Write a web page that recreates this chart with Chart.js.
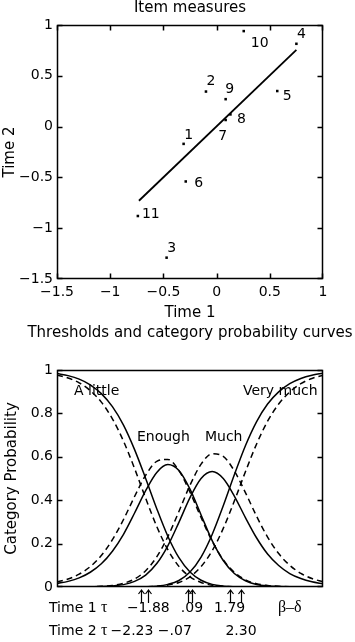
<!DOCTYPE html>
<html><head><meta charset="utf-8">
<script src="https://cdn.jsdelivr.net/npm/chart.js@4/dist/chart.umd.min.js"></script>
<style>
html,body{margin:0;padding:0;background:#fff;width:355px;height:642px;overflow:hidden}
canvas{position:absolute;left:0}
#c1{top:0}
#c2{top:322px}
</style></head><body>
<canvas id="c1" width="355" height="322"></canvas>
<canvas id="c2" width="355" height="320"></canvas>
<script>
// ---------- Top chart data: item measures ----------
const itemLabels = ['1','2','3','4','5','6','7','8','9','10','11'];
const itemTime1  = [-0.31,-0.10,-0.47,0.75,0.57,-0.29,0.085,0.13,0.085,0.255,-0.74];
const itemTime2  = [-0.17,0.345,-1.29,0.815,0.35,-0.54,0.065,0.12,0.27,0.94,-0.88];
const fitLineX   = [-0.73, 0.75];
const fitLineY   = [-0.73, 0.755];
const topXTicks  = [-1.5,-1,-0.5,0,0.5,1];
const topYTicks  = [-1.5,-1,-0.5,0,0.5,1];

// ---------- Bottom chart data: category probability curves ----------
const theta = [-6,-5.5,-5,-4.5,-4,-3.5,-3,-2.5,-2,-1.5,-1,-0.5,0,0.5,1,1.5,2,2.5,3,3.5,4,4.5,5,5.5,6];
const t1ALittle = [.984,.974,.958,.932,.891,.831,.746,.633,.500,.361,.234,.135,.069,.031,.012,.004,.001,0,0,0,0,0,0,0,0];
const t1Enough  = [.016,.026,.042,.068,.107,.165,.243,.341,.444,.528,.564,.537,.451,.332,.214,.122,.062,.029,.012,.005,.002,.001,0,0,0];
const t1Much    = [0,0,0,.001,.002,.005,.011,.026,.055,.108,.190,.298,.412,.500,.532,.500,.419,.320,.227,.152,.099,.062,.039,.024,.015];
const t1VeryMuch= [0,0,0,0,0,0,0,0,.001,.004,.012,.030,.069,.138,.242,.374,.517,.651,.761,.843,.899,.937,.961,.976,.985];
const t2ALittle = [.977,.963,.941,.905,.852,.775,.672,.546,.409,.279,.172,.095,.047,.021,.008,.003,.001,0,0,0,0,0,0,0,0];
const t2Enough  = [.023,.037,.059,.094,.145,.218,.311,.417,.515,.579,.588,.536,.437,.320,.211,.125,.068,.033,.015,.007,.003,.001,0,0,0];
const t2Much    = [0,0,0,.001,.003,.007,.017,.037,.075,.139,.232,.348,.469,.566,.614,.602,.535,.435,.327,.230,.154,.100,.063,.039,.024];
const t2VeryMuch= [0,0,0,0,0,0,0,0,.001,.003,.009,.021,.047,.094,.167,.270,.396,.531,.658,.764,.843,.899,.937,.961,.976];
const categoryNames = ['A little','Enough','Much','Very much'];
const thresholds1 = [-1.88, 0.09, 1.79];
const thresholds2 = [-2.23, -0.07, 2.30];
const thresholdText1 = ['\u22121.88', '.09', '1.79'];
const thresholdText2 = ['\u22122.23', '\u2212.07', '2.30'];
const bottomYTicks = [0,0.2,0.4,0.6,0.8,1];

// ---------- styling / placement (not data) ----------
const FONT = "'DejaVu Sans', sans-serif";
const SERIF = "'Liberation Serif', 'DejaVu Serif', serif";
const pointLabelOffset = {'1':[5,-9],'2':[5,-10],'3':[5,-9],'4':[5,-9],'5':[10,5],'6':[13,2],'7':[-3,16],'8':[11,5],'9':[4,-10],'10':[16,12],'11':[13,-2]};
const categoryLabelPlace = [
  {x:-5.23, y:0.90, align:'left'},
  {x:-1.2,  y:0.69, align:'center'},
  {x:1.52,  y:0.69, align:'center'},
  {x:5.76,  y:0.90, align:'right'}
];
const frameTicks = {c1: {x: true, y: true}, c2: {x: false, y: true}};
const fmt = v => String(v).replace('-', '\u2212');

Chart.defaults.font.family = FONT;
Chart.defaults.color = '#000';

const framePlugin = {
  id: 'boxFrame',
  afterDraw(chart) {
    const opts = frameTicks[chart.canvas.id] || {};
    const ctx = chart.ctx, a = chart.chartArea;
    const L = Math.round(a.left) + 0.5, R = Math.round(a.right) - 0.5;
    const T = Math.round(a.top) + 0.5, B = Math.round(a.bottom) - 0.5;
    ctx.save();
    ctx.setLineDash([]);
    ctx.globalAlpha = 1;
    ctx.strokeStyle = '#000000';
    ctx.lineWidth = 1.5;
    ctx.lineCap = 'square';
    ctx.beginPath();
    ctx.moveTo(L, T); ctx.lineTo(R, T); ctx.lineTo(R, B); ctx.lineTo(L, B); ctx.closePath();
    ctx.stroke();
    const len = 5;
    ctx.lineCap = 'butt';
    ctx.lineWidth = 1.5;
    ctx.beginPath();
    if (opts.x) {
      const sx = chart.scales.x;
      sx.ticks.forEach(t => {
        const px = Math.min(R, Math.round(sx.getPixelForValue(t.value)) + 0.5);
        ctx.moveTo(px, B); ctx.lineTo(px, B - len);
        ctx.moveTo(px, T); ctx.lineTo(px, T + len);
      });
    }
    if (opts.y) {
      const sy = chart.scales.y;
      sy.ticks.forEach(t => {
        const py = Math.min(B, Math.round(sy.getPixelForValue(t.value)) + 0.5);
        ctx.moveTo(L, py); ctx.lineTo(L + len, py);
        ctx.moveTo(R, py); ctx.lineTo(R - len, py);
      });
    }
    ctx.stroke();
    ctx.restore();
  }
};

const headingText = {c1: {text: 'Item measures', baseline: 12}, c2: {text: 'Thresholds and category probability curves', baseline: 14.7}};
const headingPlugin = {
  id: 'heading',
  afterDraw(chart) {
    const h = headingText[chart.canvas.id];
    const ctx = chart.ctx, a = chart.chartArea;
    ctx.save();
    ctx.font = '15px ' + FONT;
    ctx.fillStyle = '#000';
    ctx.textAlign = 'center';
    ctx.textBaseline = 'alphabetic';
    ctx.fillText(h.text, (a.left + a.right) / 2, h.baseline);
    ctx.restore();
  }
};

const pointLabelPlugin = {
  id: 'pointLabels',
  afterDraw(chart) {
    const ctx = chart.ctx;
    const meta = chart.getDatasetMeta(0);
    ctx.save();
    ctx.font = '14px ' + FONT;
    ctx.fillStyle = '#000';
    ctx.textAlign = 'center';
    ctx.textBaseline = 'middle';
    meta.data.forEach((el, i) => {
      const off = pointLabelOffset[itemLabels[i]] || [8, 0];
      ctx.fillText(itemLabels[i], el.x + off[0], el.y + off[1]);
    });
    ctx.restore();
  }
};

// ---------- Top chart ----------
new Chart(document.getElementById('c1'), {
  type: 'scatter',
  data: {
    datasets: [
      {
        data: itemTime1.map((x, i) => ({x, y: itemTime2[i]})),
        pointStyle: 'rect', pointRadius: 1.8, backgroundColor: '#000', borderWidth: 0, showLine: false
      },
      {
        type: 'line',
        data: fitLineX.map((x, i) => ({x, y: fitLineY[i]})),
        borderColor: '#000', borderWidth: 1.8, pointRadius: 0, fill: false
      }
    ]
  },
  options: {
    responsive: false, animation: false, events: [],
    layout: {padding: {top: 25, right: 32, left: 0, bottom: 0}},
    plugins: {legend: {display: false}, tooltip: {enabled: false}},
    scales: {
      x: {
        type: 'linear', min: -1.5, max: 1,
        afterBuildTicks: s => { s.ticks = topXTicks.map(v => ({value: v})); },
        afterFit: s => { s.height = 43; },
        grid: {display: false, drawTicks: false}, border: {display: false},
        ticks: {font: {size: 14}, padding: 5, autoSkip: false, maxRotation: 0, callback: v => fmt(v)},
        title: {display: true, text: 'Time 1', font: {size: 15}, padding: 0}
      },
      y: {
        type: 'linear', min: -1.5, max: 1,
        afterBuildTicks: s => { s.ticks = topYTicks.map(v => ({value: v})); },
        afterFit: s => { s.width = 57; },
        grid: {display: false, drawTicks: false}, border: {display: false},
        ticks: {font: {size: 14}, padding: 4, autoSkip: false, callback: v => fmt(v)},
        title: {display: true, text: 'Time 2', font: {size: 15}, padding: {top: 1, bottom: 0}}
      }
    }
  },
  plugins: [framePlugin, headingPlugin, pointLabelPlugin]
});

// ---------- Bottom chart ----------
const thresholdPlugin = {
  id: 'thresholds',
  afterDraw(chart) {
    const ctx = chart.ctx, a = chart.chartArea;
    const sx = chart.scales.x, sy = chart.scales.y;
    ctx.save();
    ctx.fillStyle = '#000';
    ctx.strokeStyle = '#000';
    // category labels
    ctx.font = '14px ' + FONT;
    ctx.textBaseline = 'middle';
    categoryNames.forEach((name, i) => {
      const p = categoryLabelPlace[i];
      ctx.textAlign = p.align;
      ctx.fillText(name, sx.getPixelForValue(p.x), sy.getPixelForValue(p.y));
    });
    // arrows under the thresholds
    ctx.lineWidth = 1.2;
    const top = a.bottom + 3, bot = a.bottom + 16;
    thresholds1.concat(thresholds2).forEach(t => {
      const px = Math.round(sx.getPixelForValue(t)) + 0.5;
      ctx.beginPath();
      ctx.moveTo(px, bot); ctx.lineTo(px, top);
      ctx.moveTo(px - 3, top + 4); ctx.lineTo(px, top); ctx.lineTo(px + 3, top + 4);
      ctx.stroke();
    });
    // text rows
    const row1 = 290.3, row2 = 312.8, x0 = 49;
    ctx.textBaseline = 'alphabetic';
    ctx.textAlign = 'left';
    ctx.font = '14px ' + FONT;
    ctx.fillText('Time 1', x0, row1);
    ctx.fillText('Time 2', x0, row2);
    const w1 = ctx.measureText('Time 1 ').width;
    ctx.font = '16px ' + SERIF;
    ctx.fillText('\u03C4', x0 + w1, row1);
    ctx.fillText('\u03C4', x0 + w1, row2);
    const wt = ctx.measureText('\u03C4').width;
    ctx.font = '14px ' + FONT;
    ctx.textAlign = 'center';
    thresholds1.forEach((t, i) => ctx.fillText(thresholdText1[i], sx.getPixelForValue(t), row1));
    ctx.textAlign = 'left';
    let cx = x0 + w1 + wt + 3;
    ctx.fillText(thresholdText2[0], cx, row2);
    cx += ctx.measureText(thresholdText2[0] + ' ').width;
    ctx.fillText(thresholdText2[1], cx, row2);
    ctx.textAlign = 'center';
    ctx.fillText(thresholdText2[2], sx.getPixelForValue(thresholds2[2]), row2);
    ctx.font = '16px ' + SERIF;
    ctx.fillText('\u03B2\u2013\u03B4', sx.getPixelForValue(4.5), row1);
    ctx.restore();
  }
};

const curve = (arr, dashed) => ({
  type: 'line',
  data: theta.map((x, i) => ({x, y: arr[i]})),
  borderColor: '#000', borderWidth: 1.5, pointRadius: 0, fill: false,
  borderDash: dashed ? [6, 4] : [],
  cubicInterpolationMode: 'monotone'
});

new Chart(document.getElementById('c2'), {
  type: 'line',
  data: {
    datasets: [
      curve(t2ALittle, true), curve(t2Enough, true), curve(t2Much, true), curve(t2VeryMuch, true),
      curve(t1ALittle, false), curve(t1Enough, false), curve(t1Much, false), curve(t1VeryMuch, false)
    ]
  },
  options: {
    responsive: false, animation: false, events: [],
    layout: {padding: {top: 48, right: 32, left: 0, bottom: 0}},
    plugins: {legend: {display: false}, tooltip: {enabled: false}},
    scales: {
      x: {
        type: 'linear', min: -6, max: 6,
        afterFit: s => { s.height = 55; },
        grid: {display: false, drawTicks: false}, border: {display: false},
        ticks: {display: false}
      },
      y: {
        type: 'linear', min: 0, max: 1,
        afterBuildTicks: s => { s.ticks = bottomYTicks.map(v => ({value: v})); },
        afterFit: s => { s.width = 57; },
        grid: {display: false, drawTicks: false}, border: {display: false},
        ticks: {font: {size: 14}, padding: 4, autoSkip: false, callback: v => fmt(v)},
        title: {display: true, text: 'Category Probability', font: {size: 15}, padding: {top: 3.5, bottom: 0}}
      }
    }
  },
  plugins: [framePlugin, headingPlugin, thresholdPlugin]
});
</script>
</body></html>
